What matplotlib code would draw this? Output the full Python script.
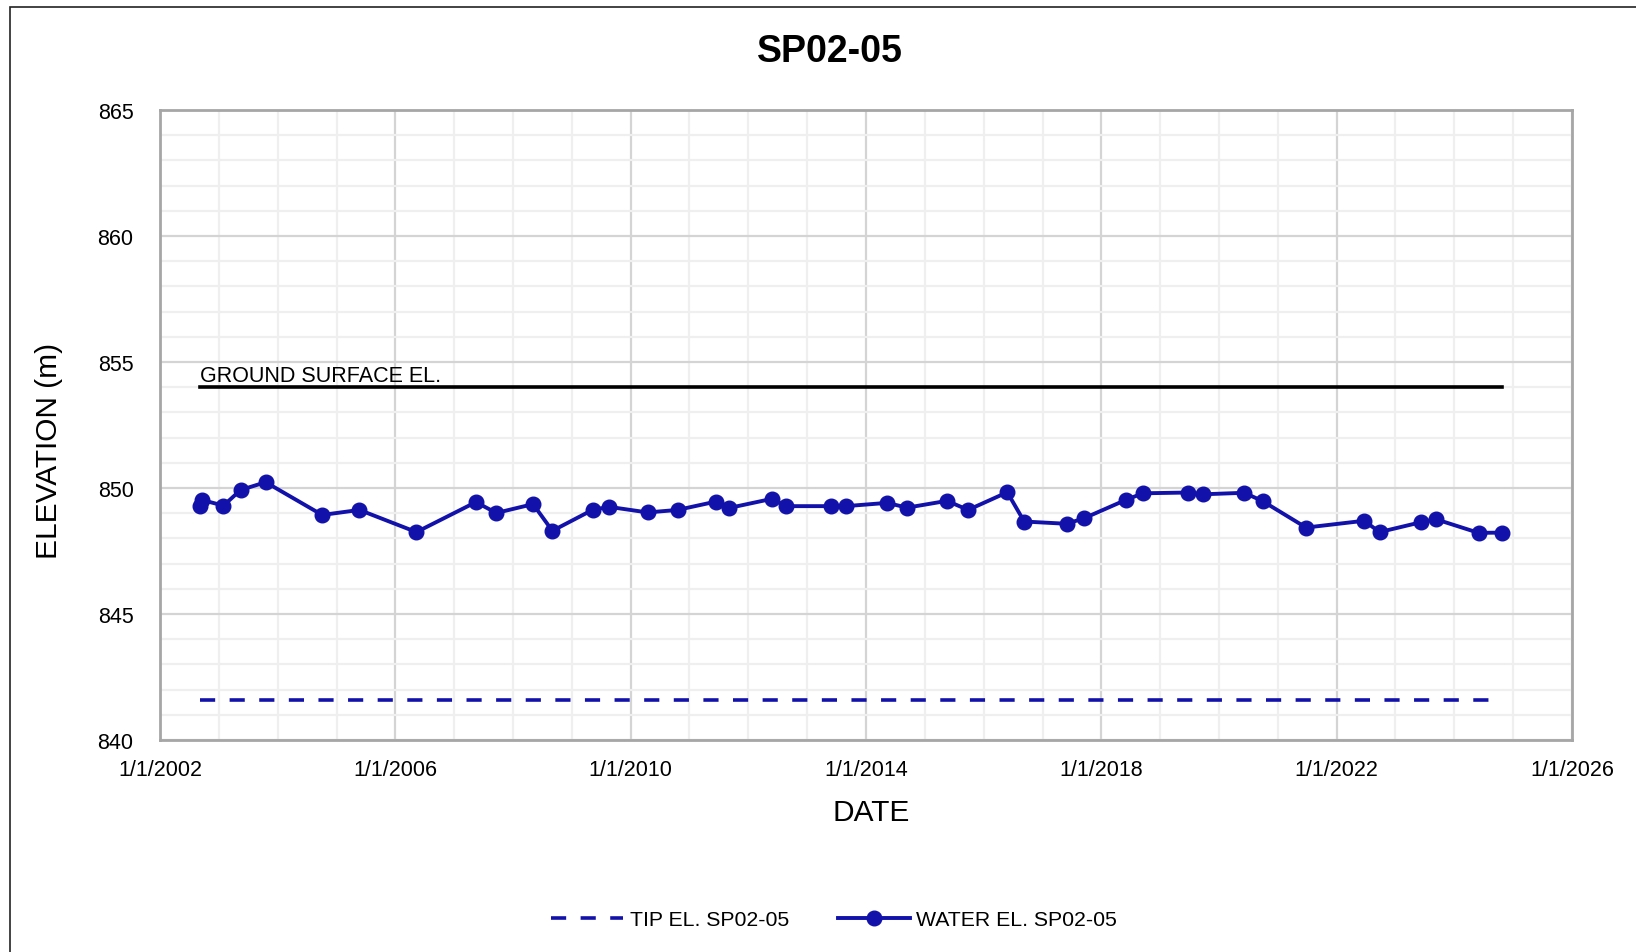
import numpy as np
import pandas as pd
import matplotlib
matplotlib.use("Agg")
from matplotlib import pyplot as plt
import matplotlib.dates as mdates
from matplotlib.patches import Rectangle
from matplotlib.ticker import FuncFormatter, MultipleLocator, FixedLocator

plt.rcParams['font.family'] = ['Liberation Sans', 'DejaVu Sans']

# water level readings
water_dates = ["2002-09-05", "2002-09-16", "2003-01-30", "2003-05-16", "2003-10-19",
               "2004-10-04", "2005-05-23", "2006-05-12", "2007-05-16", "2007-09-20",
               "2008-05-05", "2008-09-02", "2009-05-12", "2009-08-22", "2010-04-16",
               "2010-10-19", "2011-06-14", "2011-09-06", "2012-05-27", "2012-08-22",
               "2013-05-27", "2013-08-29", "2014-05-12", "2014-09-13", "2015-05-19",
               "2015-09-27", "2016-05-27", "2016-09-09", "2017-05-31", "2017-09-16",
               "2018-06-03", "2018-09-16", "2019-06-21", "2019-09-24", "2020-06-07",
               "2020-09-28", "2021-06-25", "2022-06-21", "2022-09-24", "2023-06-07",
               "2023-09-09", "2024-05-31", "2024-10-23"]
water_el = [849.30, 849.53, 849.30, 849.92, 850.23,
            848.93, 849.13, 848.25, 849.44, 849.01,
            849.36, 848.30, 849.14, 849.25, 849.03,
            849.13, 849.46, 849.21, 849.57, 849.28,
            849.28, 849.28, 849.41, 849.22, 849.49,
            849.13, 849.83, 848.67, 848.58, 848.80,
            849.53, 849.79, 849.82, 849.75, 849.81,
            849.48, 848.43, 848.70, 848.25, 848.64,
            848.76, 848.22, 848.23]

ground_el = 854.0
tip_el = 841.6
series_name = "SP02-05"

dates = pd.to_datetime(water_dates)
span = [dates[0], dates[-1]]

blue = '#1212AA'

fig = plt.figure(figsize=(16.36, 9.53), dpi=100)
ax = fig.add_axes([160/1636, 1-741/953, 1412/1636, 630/953])

# outer chart border (cut off on the right and bottom)
fig.patches.append(Rectangle((10/1636, -0.1), 1.2, 1 - 8/953 + 0.1, transform=fig.transFigure,
                             fill=False, edgecolor='#222222', linewidth=1.2))

ax.plot(span, [tip_el, tip_el], color=blue, linewidth=2.6, dashes=(4.2, 4.0),
        label="TIP EL. " + series_name)
ax.plot(dates, water_el, color=blue, linewidth=2.8, marker='o', markersize=10.5,
        label="WATER EL. " + series_name)
ax.plot(span, [ground_el, ground_el], color='black', linewidth=2.6)
ax.text(span[0], ground_el + 0.25, "GROUND SURFACE EL.", fontsize=15.5, va='baseline', ha='left')

ax.set_xlim(pd.Timestamp("2002-01-01"), pd.Timestamp("2026-01-01"))
ax.set_ylim(840, 865)

major_x = mdates.date2num(pd.date_range("2002-01-01", "2026-01-01", freq="4YS"))
minor_x = mdates.date2num(pd.date_range("2002-01-01", "2026-01-01", freq="YS"))
ax.xaxis.set_major_locator(FixedLocator(major_x))
ax.xaxis.set_minor_locator(FixedLocator(minor_x))
ax.xaxis.set_major_formatter(FuncFormatter(
    lambda v, p: "{d.month}/{d.day}/{d.year}".format(d=mdates.num2date(v))))
ax.yaxis.set_major_locator(MultipleLocator(5))
ax.yaxis.set_minor_locator(MultipleLocator(1))

ax.grid(which='major', color='#D4D4D4', linewidth=1.6)
ax.grid(which='minor', color='#EFEFEF', linewidth=1.6)
ax.set_axisbelow(True)
ax.tick_params(which='both', length=0)
ax.tick_params(axis='x', labelsize=15.5, pad=14)
ax.tick_params(axis='y', labelsize=15.5, pad=19)
for s in ax.spines.values():
    s.set_color('#A6A6A6')
    s.set_linewidth(2)

fig.text(830/1636, 1-52/953, series_name, fontsize=27, fontweight='bold', ha='center', va='center')
fig.text(49/1636, 1-451/953, "ELEVATION (m)", fontsize=21.5, rotation=90, ha='center', va='center')
fig.text(871/1636, 1-813/953, "DATE", fontsize=21.5, ha='center', va='center')

fig.legend(loc='center', bbox_to_anchor=(834/1636, 1-921/953), ncol=2, frameon=False,
           fontsize=15.3, handlelength=3.4, columnspacing=2.3, handletextpad=0.3)

plt.savefig('out.png', dpi=100)
